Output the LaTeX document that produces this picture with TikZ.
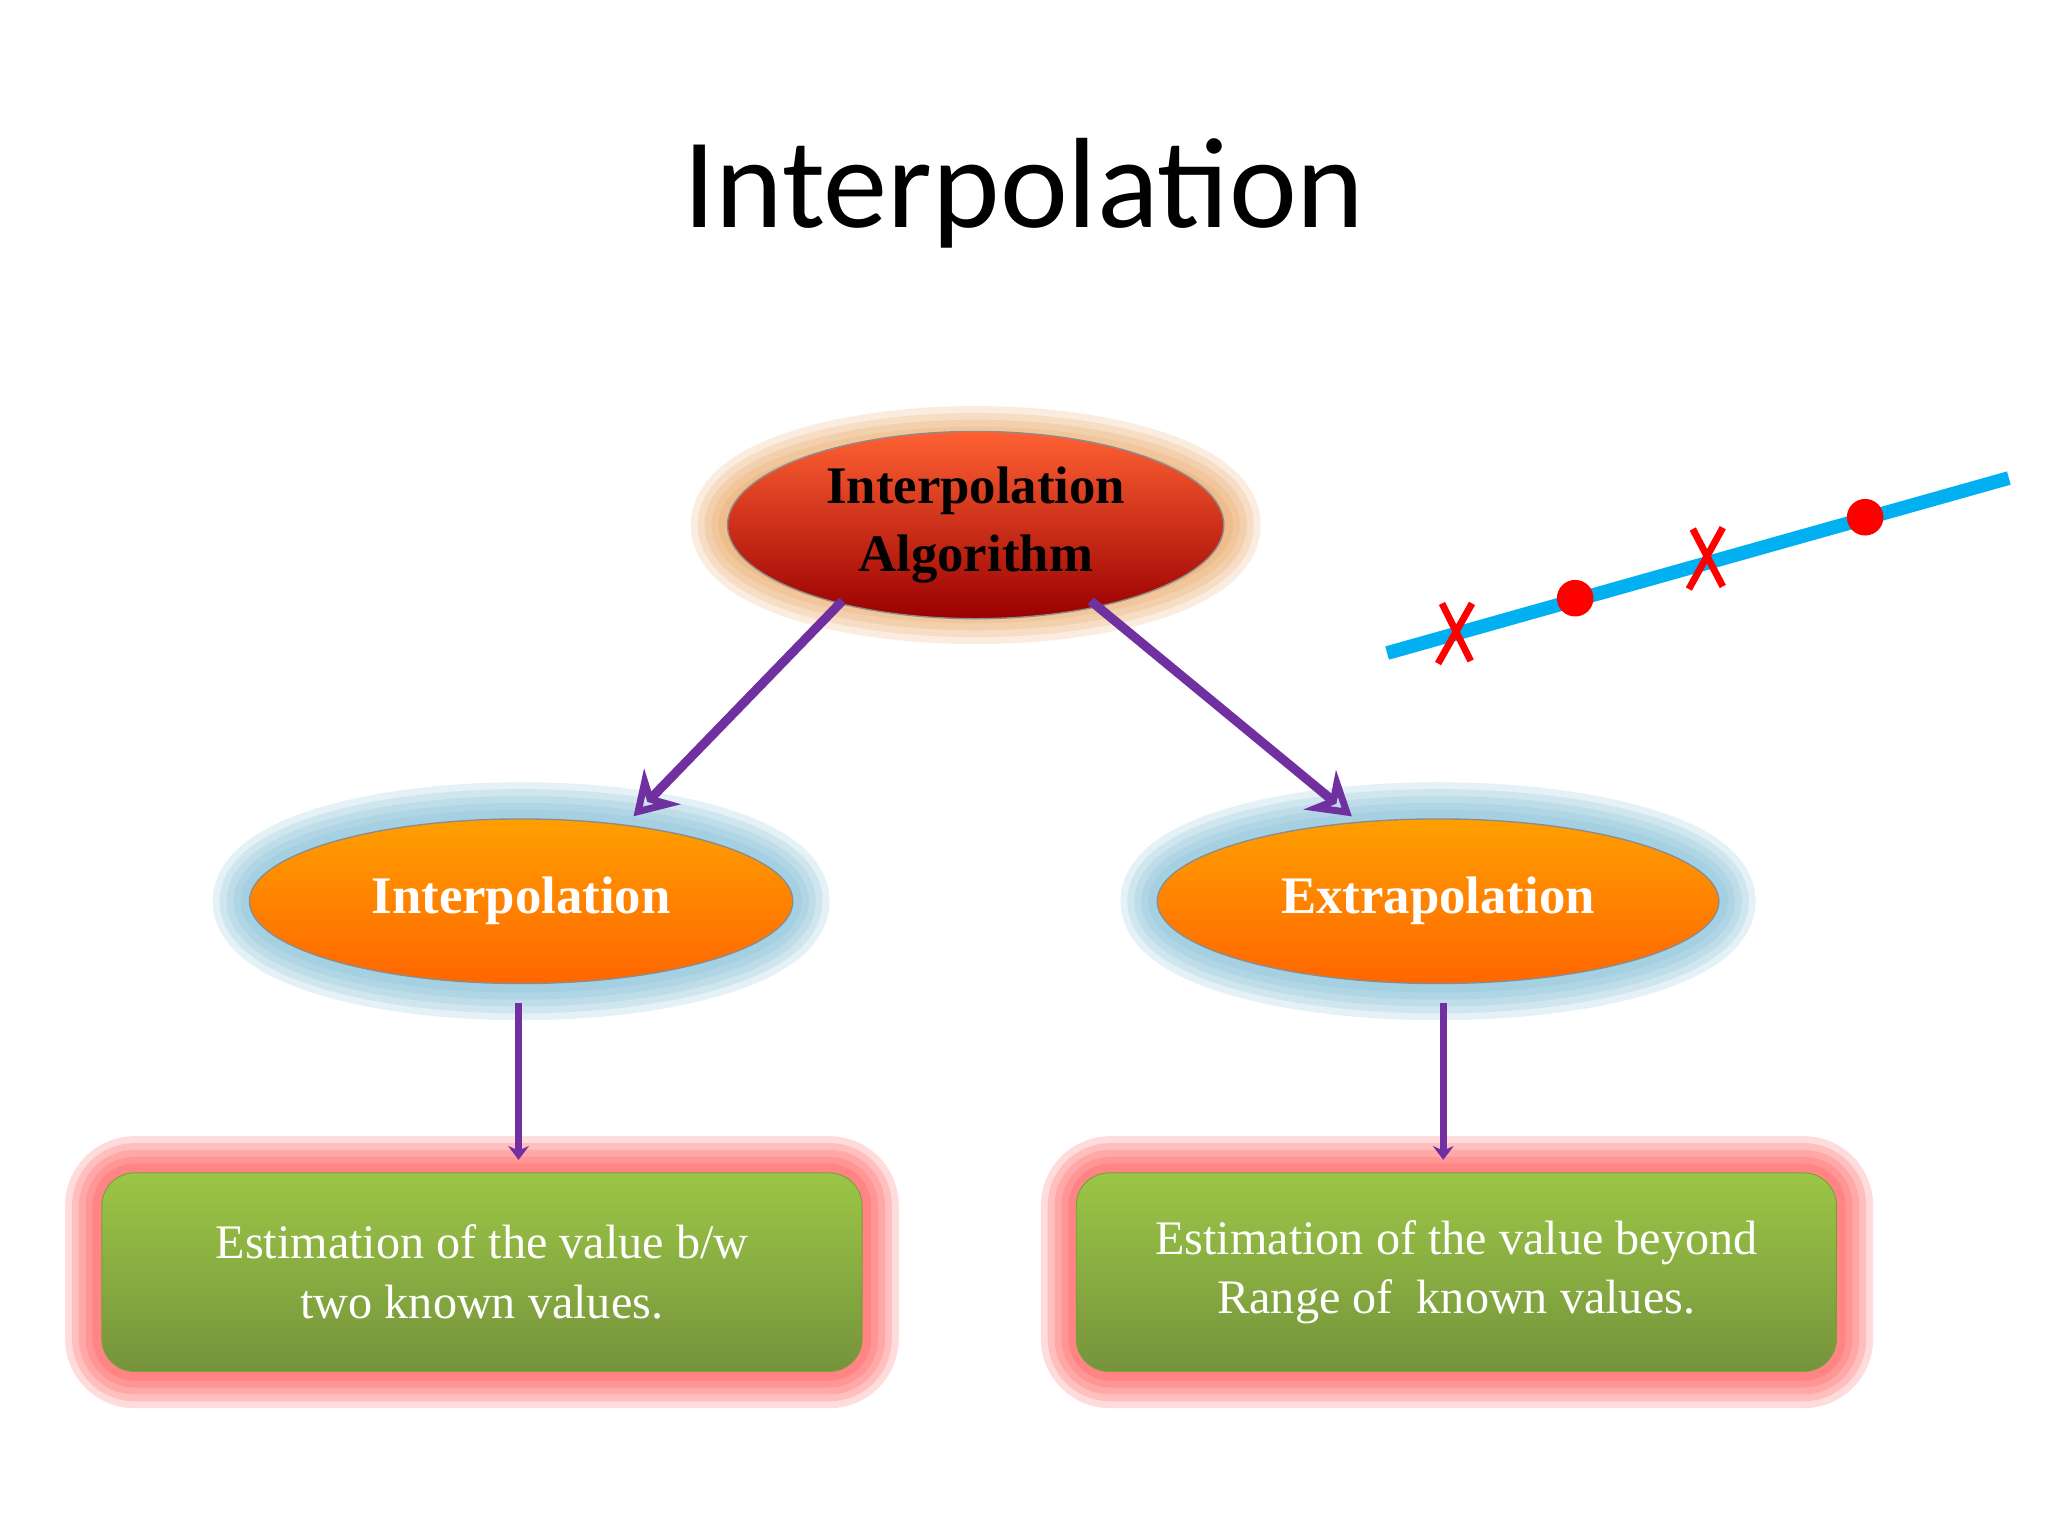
\documentclass[tikz,border=0pt]{standalone}
\usepackage{fontspec}
\setmainfont{Liberation Serif}
\newfontfamily\titlefont{Carlito}
\usetikzlibrary{shapes.geometric,arrows.meta}
\definecolor{pur}{HTML}{7030A0}
\definecolor{gtop}{HTML}{9BC646}
\definecolor{gbot}{HTML}{76933C}
\definecolor{sky}{HTML}{00B0F0}
\begin{document}
\begin{tikzpicture}[x=0.02cm,y=-0.02cm,
  ell/.style={ellipse, minimum width=#1, draw=black!45, line width=0.6pt, align=center, font=\bfseries\fontsize{23}{30}\selectfont},
  box/.style={rounded corners=0.5cm, minimum width=582*0.02cm, minimum height=152*0.02cm, align=center,
     top color=gtop, bottom color=gbot, draw=gtop!80!black, text=white, font=\fontsize{21}{26}\selectfont},
  arr/.style={draw=pur, line width=4pt, -{Stealth[open, length=18pt, width=22pt, line width=4pt]}},
  varr/.style={draw=pur, line width=3.2pt, -{Stealth[length=6pt,width=9pt]}},
  xmark/.style={draw=red, line width=3pt}]
\useasboundingbox (0,0) rectangle (1568,1176);
\fill[white] (0,0) rectangle (1568,1176);
\node[font=\titlefont\fontsize{56}{64}\selectfont] (title) at (784,148) {Interpolation};
% glows
\foreach \w in {32,26,20,14,8}{
  \draw[orange!55!brown!80, opacity=0.18, line width=\w pt] (747,402) ellipse (190 and 63);
  \draw[cyan!45!teal!60, opacity=0.2, line width=\w pt] (399,690) ellipse (208 and 63);
  \draw[cyan!45!teal!60, opacity=0.2, line width=\w pt] (1101,690) ellipse (215 and 63);
  \draw[red!75, opacity=0.18, line width=\w pt, rounded corners=0.5cm] (78,898) rectangle (660,1050);
  \draw[red!75, opacity=0.18, line width=\w pt, rounded corners=0.5cm] (825,898) rectangle (1406,1050);
}
\node[ell=380*0.02cm, minimum height=126*0.02cm, top color=red!55!orange!80!white, bottom color=red!60!black, text=black] (alg) at (747,402) {Interpolation\\Algorithm};
\node[ell=416*0.02cm, minimum height=126*0.02cm, top color=orange!75!yellow, bottom color=orange!80!red, text=white] (inter) at (399,690) {Interpolation};
\node[ell=430*0.02cm, minimum height=126*0.02cm, top color=orange!75!yellow, bottom color=orange!80!red, text=white] (extra) at (1101,690) {Extrapolation};
\node[box] (b1) at (369,974) {Estimation of the value b/w\\two known values.};
\node[box] (b2) at (1115,974) {Estimation of the value beyond\\Range of\ \ known values.};
% arrows
\coordinate (a1s) at (645,460); \coordinate (a1e) at (485,625);
\coordinate (a2s) at (835,460); \coordinate (a2e) at (1035,625);
\draw[arr] (a1s) -- (a1e);
\draw[arr] (a2s) -- (a2e);
\coordinate (v1) at (397,888); \coordinate (v2) at (1105,888);
\draw[varr] (397,768) -- (v1);
\draw[varr] (1105,768) -- (v2);
% line with points
\coordinate (L1) at (1062,500); \coordinate (L2) at (1538,366);
\draw[sky, line width=6pt] (L1) -- (L2);
\fill[red] (1206,458) circle (14);
\fill[red] (1428,396) circle (14);
\draw[xmark] (1101,508) -- (1127,462) (1104,462) -- (1126,506);
\draw[xmark] (1293,451) -- (1319,404) (1296,405) -- (1319,449);
\end{tikzpicture}
\end{document}
